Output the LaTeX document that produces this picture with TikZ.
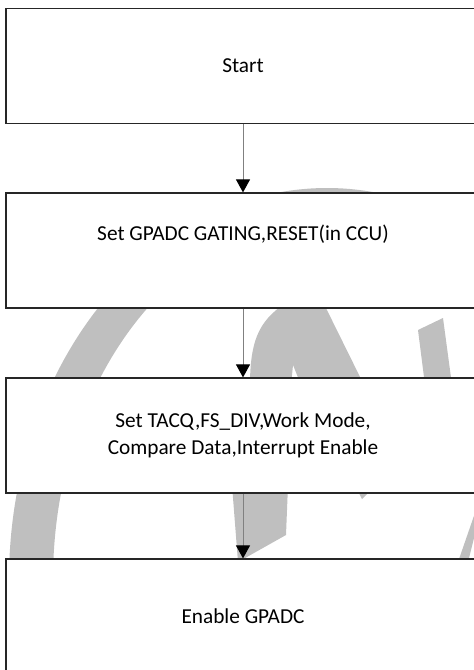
\documentclass[tikz,border=0pt]{standalone}
\usepackage{fontspec}
\setmainfont{Carlito}
\usetikzlibrary{arrows.meta}
\tikzset{every picture/.style={line width=0.75pt}}

\begin{document}
\begin{tikzpicture}[x=1pt,y=-1pt,
    box/.style={draw=black!85, line width=1.2pt, fill=white, inner sep=0pt,
        minimum width=474pt, minimum height=115pt, align=center,
        font=\fontsize{21.3}{27}\selectfont},
    flow/.style={draw=black!50, line width=1pt, -{Triangle[black,length=13pt,width=14pt]}},
    wm/.style={fill=black!25}]
    \clip (0,0) rectangle (474,670);

    % 水印
    \fill[wm, even odd rule] (327,580) ellipse [x radius=318, y radius=392]
        (327,580) ellipse [x radius=274, y radius=360];
    \fill[wm] (290,300) .. controls (262,318) and (250,335) .. (250,385)
        -- (291,385) -- (293,365) -- (301,385) -- (364,385) -- (322,300) -- cycle;
    \fill[wm] (232,485) -- (288,485) -- (286,535) -- (238,562) -- cycle;
    \fill[wm] (355,485) -- (376,485) -- (362,499) -- cycle;
    \fill[wm] (418,330) -- (443,318) -- (452,385) -- (425,385) -- cycle;
    \fill[wm] (458,562) -- (476,510) -- (476,530) -- (468,562) -- cycle;

    % 流程框
    \node[box] (start) at (243,66) {Start};
    \node[box] (gating) at (243,250.5) {Set GPADC GATING,RESET(in CCU)\\\strut};
    \node[box] (config) at (243,435.5) {Set TACQ,FS\_DIV,Work Mode,\\Compare Data,Interrupt Enable};
    \node[box] (enable) at (243,616.5) {Enable GPADC};

    % 箭头
    \draw[flow] (start) -- (gating);
    \draw[flow] (gating) -- (config);
    \draw[flow] (config) -- (enable);
\end{tikzpicture}
\end{document}
